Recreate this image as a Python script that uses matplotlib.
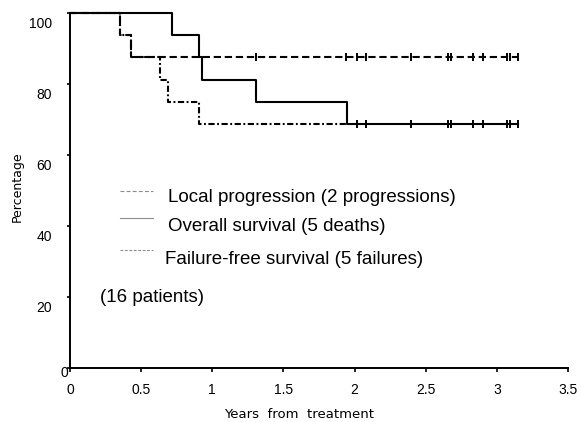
import numpy as np
import matplotlib
matplotlib.use("Agg")
import matplotlib.pyplot as plt
from matplotlib.transforms import ScaledTranslation

# Kaplan-Meier step data (years, percentage)
os_times = [0, 0.72, 0.91, 0.93, 1.31, 1.95, 3.15]
os_values = [100, 93.75, 87.5, 81.25, 75, 68.75, 68.75]

lp_times = [0, 0.35, 0.43, 3.15]
lp_values = [100, 93.75, 87.5, 87.5]

ffs_times = [0, 0.35, 0.43, 0.63, 0.69, 0.91, 1.95]
ffs_values = [100, 93.75, 87.5, 81.25, 75, 68.75, 68.75]

# censored observations
lp_censored = [1.31, 1.94, 2.02, 2.08, 2.40, 2.66, 2.68, 2.83, 2.90, 3.07, 3.09, 3.15]
os_censored = [2.02, 2.08, 2.40, 2.66, 2.68, 2.83, 2.90, 3.07, 3.09, 3.15]

legend_labels = ["Local progression (2 progressions)",
                 "Overall survival (5 deaths)",
                 "Failure-free survival (5 failures)"]
note = "(16 patients)"

x_ticks = [0, 0.5, 1, 1.5, 2, 2.5, 3, 3.5]
x_ticklabels = ["0", "0.5", "1", "1.5", "2", "2.5", "3", "3.5"]
y_ticks = [0, 20, 40, 60, 80, 100]


def main():
    fig = plt.figure(figsize=(5.81, 4.22), dpi=100)
    ax = fig.add_axes([0.1205, 0.128, 0.857, 0.841])

    lw = 1.5
    ax.step(lp_times, lp_values, where='post', color='black', lw=lw,
            linestyle=(0, (3.5, 1.8)), clip_on=False)
    ax.step(ffs_times, ffs_values, where='post', color='black', lw=lw,
            linestyle=(0, (3.0, 1.2, 0.9, 1.2)), clip_on=False)
    ax.step(os_times, os_values, where='post', color='black', lw=lw,
            clip_on=False)

    ax.plot(lp_censored, [lp_values[-1]] * len(lp_censored), linestyle='none',
            marker='|', ms=6, mew=1.4, color='black', clip_on=False)
    ax.plot(os_censored, [os_values[-1]] * len(os_censored), linestyle='none',
            marker='|', ms=6, mew=1.4, color='black', clip_on=False)

    # hand-drawn legend
    sample_styles = [(0, (3.5, 2.0)), '-', (0, (2.5, 1.5))]
    sample_y = [0.499, 0.423, 0.332]
    text_y = [0.480, 0.398, 0.305]
    text_x = [0.197, 0.197, 0.191]
    for ls, sy, ty, tx, lab in zip(sample_styles, sample_y, text_y, text_x, legend_labels):
        ax.plot([0.100, 0.167], [sy, sy], transform=ax.transAxes,
                color='#8c8c8c', lw=0.8, linestyle=ls)
        ax.text(tx, ty, lab, transform=ax.transAxes, fontsize=13.5,
                family='Liberation Sans', va='center', ha='left')
    ax.text(0.060, 0.198, note, transform=ax.transAxes, fontsize=13.5,
            family='Liberation Sans', va='center', ha='left')

    ax.set_xlim(0, 3.5)
    ax.set_ylim(0, 100)
    ax.spines['top'].set_visible(False)
    ax.spines['right'].set_visible(False)
    ax.spines['left'].set_linewidth(1.4)
    ax.spines['bottom'].set_linewidth(1.4)

    ax.set_xticks(x_ticks)
    ax.set_xticklabels(x_ticklabels, family='Liberation Sans', fontsize=10)
    ax.set_yticks(y_ticks)
    ax.set_yticklabels([str(v) for v in y_ticks], family='Liberation Sans', fontsize=10)
    ax.tick_params(axis='x', direction='out', length=3, width=1.2, pad=8)
    ax.tick_params(axis='y', direction='out', length=2, width=1.2, pad=11)

    for lab in ax.get_yticklabels():
        if lab.get_text() == "0":
            off = ScaledTranslation(16 / 100, -4 / 100, fig.dpi_scale_trans)
        else:
            off = ScaledTranslation(0, -9 / 100, fig.dpi_scale_trans)
        lab.set_transform(lab.get_transform() + off)

    ax.set_xlabel("Years  from  treatment", fontsize=9.5, family='DejaVu Sans')
    ax.set_ylabel("Percentage", fontsize=9, family='DejaVu Sans')
    ax.xaxis.set_label_coords(0.46, -0.113)
    ax.yaxis.set_label_coords(-0.092, 0.51)

    fig.savefig("out.png", dpi=100)


if __name__ == "__main__":
    main()
